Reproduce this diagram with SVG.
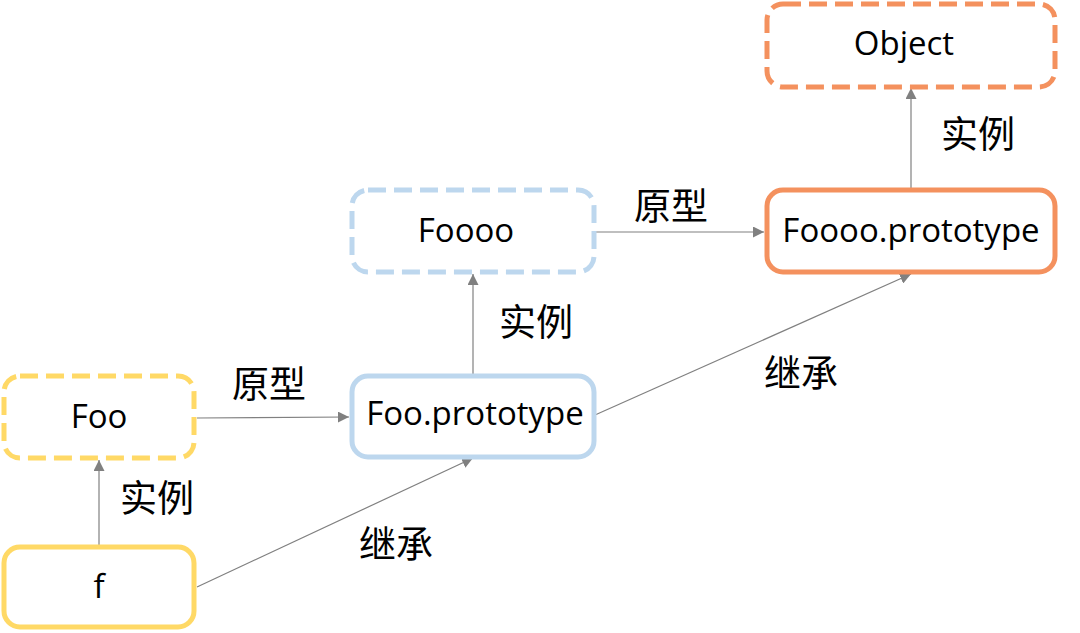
<svg xmlns="http://www.w3.org/2000/svg" width="1080" height="633" viewBox="0 0 1080 633">
<defs>
<marker id="ah" viewBox="0 0 10 10" refX="10" refY="5" markerWidth="11" markerHeight="11" markerUnits="userSpaceOnUse" orient="auto">
<path d="M0,0 L10,5 L0,10 Z" fill="#808080"/>
</marker>
<style>
.box{fill:#ffffff;stroke-width:5}
.dash{stroke-dasharray:18 8}
.y{stroke:#FFD966}
.b{stroke:#BDD7EE}
.o{stroke:#F4915E}
.t{font-family:"Open Sans","Noto Sans",sans-serif;font-size:33px;fill:#000;text-anchor:middle;dominant-baseline:central}
.l{font-family:"Noto Sans CJK SC","Noto Sans",sans-serif;font-size:37px;fill:#000;text-anchor:middle;dominant-baseline:central}
.c{stroke:#808080;stroke-width:1.2;fill:none;marker-end:url(#ah)}
</style>
</defs>
<rect width="1080" height="633" fill="#ffffff"/>
<g id="connectors">
<line class="c" x1="99" y1="546" x2="99" y2="460"/>
<line class="c" x1="197" y1="418" x2="349" y2="417"/>
<line class="c" x1="197" y1="587" x2="473" y2="458"/>
<line class="c" x1="473" y1="375" x2="473" y2="274"/>
<line class="c" x1="595" y1="232" x2="764" y2="232"/>
<line class="c" x1="595" y1="415" x2="911" y2="274"/>
<line class="c" x1="911" y1="188" x2="911" y2="88"/>
</g>
<g id="labels">
<text class="l" x="269" y="382">原型</text>
<text class="l" x="157" y="496">实例</text>
<text class="l" x="396" y="542">继承</text>
<text class="l" x="536" y="320">实例</text>
<text class="l" x="671" y="204">原型</text>
<text class="l" x="801" y="371">继承</text>
<text class="l" x="978" y="132">实例</text>
</g>
<g id="node-foo">
<rect class="box dash y" x="4" y="376" width="190" height="82" rx="16"/>
<text class="t" x="99" y="415">Foo</text>
</g>
<g id="node-f">
<rect class="box y" x="4" y="547" width="190" height="80" rx="16"/>
<text class="t" x="99" y="585">f</text>
</g>
<g id="node-fooprototype">
<rect class="box b" x="352" y="376" width="242" height="81" rx="16"/>
<text class="t" x="475" y="412">Foo.prototype</text>
</g>
<g id="node-foooo">
<rect class="box dash b" x="352" y="190" width="242" height="82" rx="16"/>
<text class="t" x="466" y="229">Foooo</text>
</g>
<g id="node-foooo-prototype">
<rect class="box o" x="767" y="190" width="288" height="82" rx="16"/>
<text class="t" x="911" y="229">Foooo.prototype</text>
</g>
<g id="node-object">
<rect class="box dash o" x="767" y="4" width="288" height="83" rx="16"/>
<text class="t" x="904" y="42">Object</text>
</g>
</svg>
